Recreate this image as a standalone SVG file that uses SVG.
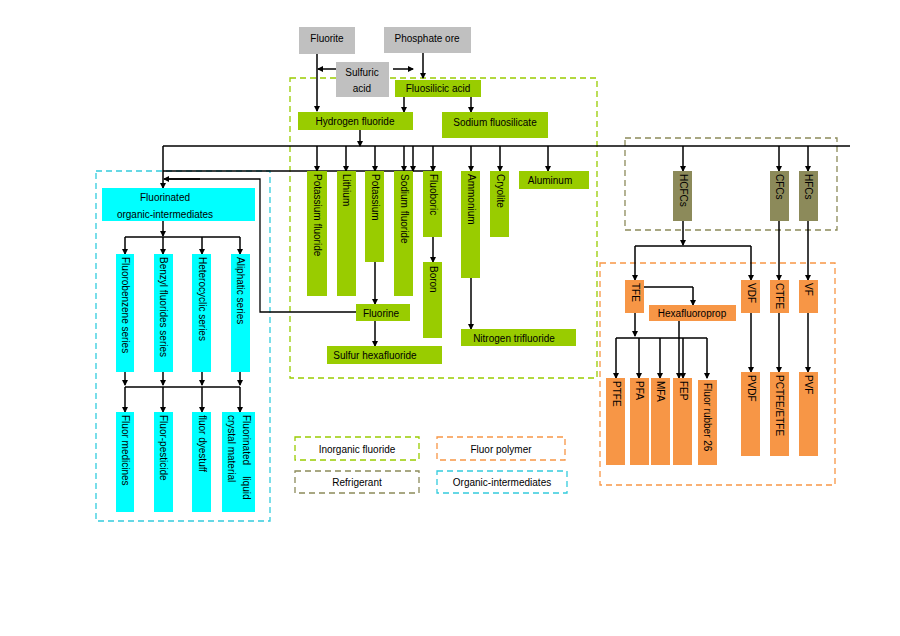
<svg xmlns="http://www.w3.org/2000/svg" width="900" height="636" viewBox="0 0 900 636">
<style>
text{font-family:"Liberation Sans",Arial,sans-serif;font-size:10px;fill:#000}
.g{fill:#c0c0c0}.gr{fill:#99cc00}.c{fill:#00ffff}.o{fill:#f79646}.k{fill:#8c8a5a}
.n rect{stroke:none}
.l{stroke:#000;stroke-width:1.3;fill:none}
.a{stroke:#000;stroke-width:1.5;fill:none;marker-end:url(#ar)}
.d{fill:none;stroke-width:1.3;stroke-dasharray:6,4}
.v{text-anchor:start;dominant-baseline:central}
.m{text-anchor:middle;dominant-baseline:central}
</style>
<defs><marker id="ar" markerWidth="6" markerHeight="6" refX="5" refY="3" orient="auto" markerUnits="userSpaceOnUse"><path d="M0,0L6,3L0,6z" fill="#000"/></marker></defs>
<rect width="900" height="636" fill="#fff"/>
<g id="regions">
<rect class="d" x="290" y="78" width="307" height="300" stroke="#99cc00"/>
<rect class="d" x="96" y="171" width="174" height="350" stroke="#33ccdd"/>
<rect class="d" x="625" y="138" width="212" height="92" stroke="#8c8a5a"/>
<rect class="d" x="600" y="263" width="235" height="222" stroke="#f79646"/>
</g>
<g id="connectors">
<path class="a" d="M336,69H318"/><path class="a" d="M393,69H413"/>
<path class="a" d="M317,54V111"/><path class="a" d="M423,53V78"/>
<path class="a" d="M404,97V112"/><path class="a" d="M471,97V112"/>
<path class="a" d="M360,130V146"/>
<path class="l" d="M163,146H850"/>
<path class="a" d="M317,146V171"/><path class="a" d="M346,146V171"/><path class="a" d="M375,146V171"/><path class="a" d="M404,146V171"/><path class="a" d="M413,146V171"/><path class="a" d="M433,146V171"/><path class="a" d="M471,146V171"/><path class="a" d="M500,146V171"/><path class="a" d="M548,146V171"/>
<path class="l" d="M163,171H433"/>
<path class="a" d="M433,237V262"/><path class="a" d="M375,262V304"/><path class="a" d="M375,321V346"/><path class="a" d="M471,278V329"/>
<path class="a" d="M163,146V188"/>
<path class="l" d="M356,312H260V179H165"/><path class="a" d="M200,179H164"/>
<path class="a" d="M163,221V236"/><path class="l" d="M125,237H240"/>
<path class="a" d="M125,237V254"/><path class="a" d="M163,237V254"/><path class="a" d="M202,237V254"/><path class="a" d="M240,237V254"/>
<path class="a" d="M125,372V385"/><path class="a" d="M163,372V385"/><path class="a" d="M202,372V385"/><path class="a" d="M240,372V385"/>
<path class="l" d="M125,387H240"/>
<path class="a" d="M125,387V412"/><path class="a" d="M163,387V412"/><path class="a" d="M202,387V412"/><path class="a" d="M240,387V412"/>
<path class="a" d="M683,146V171"/><path class="a" d="M779,146V171"/><path class="a" d="M808,146V171"/>
<path class="a" d="M683,221V245"/><path class="l" d="M635,246H751"/>
<path class="a" d="M635,246V280"/><path class="a" d="M751,246V280"/>
<path class="a" d="M779,221V280"/><path class="a" d="M808,221V280"/>
<path class="l" d="M644,287H693"/><path class="a" d="M693,287V305"/>
<path class="a" d="M635,313V336"/><path class="l" d="M616,338H707"/>
<path class="a" d="M616,338V378"/><path class="a" d="M639,338V378"/><path class="a" d="M660,338V378"/><path class="a" d="M707,338V378"/>
<path class="a" d="M679,321V378"/><path class="a" d="M683,338V378"/>
<path class="a" d="M751,313V372"/><path class="a" d="M779,313V372"/><path class="a" d="M808,313V372"/>
</g>
<g id="fluorite" class="n"><rect class="g" x="299" y="27" width="56" height="27"/><text class="m" x="327" y="38">Fluorite</text></g>
<g id="phosphate" class="n"><rect class="g" x="384" y="27" width="87" height="26"/><text class="m" x="427" y="38">Phosphate ore</text></g>
<g id="sulfuric" class="n"><rect class="g" x="336" y="62" width="53" height="35"/><text class="m" x="362" y="72">Sulfuric</text><text class="m" x="362" y="88">acid</text></g>
<g id="fluosilicic" class="n"><rect class="gr" x="395" y="80" width="86" height="17"/><text class="m" x="438" y="88">Fluosilicic acid</text></g>
<g id="hf" class="n"><rect class="gr" x="298" y="112" width="115" height="18"/><text class="m" x="355" y="121">Hydrogen fluoride</text></g>
<g id="sodiumfs" class="n"><rect class="gr" x="442" y="112" width="106" height="26"/><text class="m" x="495" y="122">Sodium fluosilicate</text></g>
<g id="kf" class="n"><rect class="gr" x="307" y="171" width="20" height="125"/><text class="v" transform="translate(317,174) rotate(90)">Potassium fluoride</text></g>
<g id="li" class="n"><rect class="gr" x="337" y="171" width="19" height="125"/><text class="v" transform="translate(346,174) rotate(90)">Lithium</text></g>
<g id="k" class="n"><rect class="gr" x="365" y="171" width="19" height="91"/><text class="v" transform="translate(375,174) rotate(90)">Potassium</text></g>
<g id="naf" class="n"><rect class="gr" x="394" y="171" width="19" height="125"/><text class="v" transform="translate(404,174) rotate(90)">Sodium fluoride</text></g>
<g id="fluoboric" class="n"><rect class="gr" x="423" y="171" width="19" height="66"/><text class="v" transform="translate(433,174) rotate(90)">Fluoboric</text></g>
<g id="ammonium" class="n"><rect class="gr" x="461" y="171" width="19" height="107"/><text class="v" transform="translate(471,174) rotate(90)">Ammonium</text></g>
<g id="cryolite" class="n"><rect class="gr" x="490" y="171" width="19" height="66"/><text class="v" transform="translate(500,174) rotate(90)">Cryolite</text></g>
<g id="aluminum" class="n"><rect class="gr" x="519" y="171" width="70" height="18"/><text class="m" x="550" y="180">Aluminum</text></g>
<g id="boron" class="n"><rect class="gr" x="423" y="262" width="19" height="76"/><text class="v" transform="translate(433,266) rotate(90)">Boron</text></g>
<g id="fluorine" class="n"><rect class="gr" x="356" y="304" width="54" height="17"/><text class="m" x="381" y="313">Fluorine</text></g>
<g id="sf6" class="n"><rect class="gr" x="327" y="346" width="115" height="18"/><text class="m" x="375" y="355">Sulfur hexafluoride</text></g>
<g id="nf3" class="n"><rect class="gr" x="461" y="329" width="115" height="17"/><text class="m" x="514" y="338">Nitrogen trifluoride</text></g>
<g id="foi" class="n"><rect class="c" x="102" y="188" width="153" height="33"/><text class="m" x="165" y="197">Fluorinated</text><text class="m" x="165" y="214">organic-intermediates</text></g>
<g id="fbs" class="n"><rect class="c" x="116" y="254" width="18" height="118"/><text class="v" transform="translate(125,257) rotate(90)">Fluorobenzene series</text></g>
<g id="bfs" class="n"><rect class="c" x="154" y="254" width="19" height="118"/><text class="v" transform="translate(163,257) rotate(90)">Benzyl fluorides series</text></g>
<g id="hs" class="n"><rect class="c" x="192" y="254" width="19" height="118"/><text class="v" transform="translate(202,257) rotate(90)">Heterocyclic series</text></g>
<g id="as" class="n"><rect class="c" x="231" y="254" width="19" height="118"/><text class="v" transform="translate(240,257) rotate(90)">Aliphatic series</text></g>
<g id="fm" class="n"><rect class="c" x="116" y="412" width="18" height="100"/><text class="v" transform="translate(125,415) rotate(90)">Fluor medicines</text></g>
<g id="fp" class="n"><rect class="c" x="154" y="412" width="19" height="100"/><text class="v" transform="translate(163,415) rotate(90)">Fluor-pesticide</text></g>
<g id="fd" class="n"><rect class="c" x="192" y="412" width="19" height="100"/><text class="v" transform="translate(202,415) rotate(90)">fluor dyestuff</text></g>
<g id="flc" class="n"><rect class="c" x="222" y="412" width="33" height="100"/><text class="v" transform="translate(246,415) rotate(90)" xml:space="preserve">Fluorinated    liquid</text><text class="v" transform="translate(231,415) rotate(90)">crystal material</text></g>
<g id="hcfcs" class="n"><rect class="k" x="673" y="171" width="19" height="50"/><text class="v" transform="translate(683,174) rotate(90)">HCFCs</text></g>
<g id="cfcs" class="n"><rect class="k" x="770" y="171" width="19" height="50"/><text class="v" transform="translate(779,174) rotate(90)">CFCs</text></g>
<g id="hfcs" class="n"><rect class="k" x="799" y="171" width="19" height="50"/><text class="v" transform="translate(808,174) rotate(90)">HFCs</text></g>
<g id="tfe" class="n"><rect class="o" x="625" y="280" width="19" height="33"/><text class="v" transform="translate(635,283) rotate(90)">TFE</text></g>
<g id="vdf" class="n"><rect class="o" x="741" y="280" width="19" height="33"/><text class="v" transform="translate(751,283) rotate(90)">VDF</text></g>
<g id="ctfe" class="n"><rect class="o" x="770" y="280" width="19" height="33"/><text class="v" transform="translate(779,283) rotate(90)">CTFE</text></g>
<g id="vf" class="n"><rect class="o" x="799" y="280" width="19" height="33"/><text class="v" transform="translate(808,283) rotate(90)">VF</text></g>
<g id="hfp" class="n"><rect class="o" x="649" y="305" width="87" height="16"/><text class="m" x="692" y="313">Hexafluoroprop</text></g>
<g id="ptfe" class="n"><rect class="o" x="606" y="378" width="19" height="87"/><text class="v" transform="translate(616,381) rotate(90)">PTFE</text></g>
<g id="pfa" class="n"><rect class="o" x="630" y="378" width="19" height="87"/><text class="v" transform="translate(639,381) rotate(90)">PFA</text></g>
<g id="mfa" class="n"><rect class="o" x="651" y="378" width="19" height="87"/><text class="v" transform="translate(660,381) rotate(90)">MFA</text></g>
<g id="fep" class="n"><rect class="o" x="673" y="378" width="19" height="87"/><text class="v" transform="translate(683,381) rotate(90)">FEP</text></g>
<g id="rubber" class="n"><rect class="o" x="698" y="380" width="19" height="85"/><text class="v" transform="translate(707,383) rotate(90)">Fluor rubber 26</text></g>
<g id="pvdf" class="n"><rect class="o" x="741" y="372" width="19" height="84"/><text class="v" transform="translate(751,375) rotate(90)">PVDF</text></g>
<g id="pctfe" class="n"><rect class="o" x="770" y="372" width="19" height="84"/><text class="v" transform="translate(779,375) rotate(90)">PCTFE/ETFE</text></g>
<g id="pvf" class="n"><rect class="o" x="799" y="372" width="19" height="84"/><text class="v" transform="translate(808,375) rotate(90)">PVF</text></g>
<g id="legend">
<rect class="d" x="295" y="437" width="124" height="23" stroke="#99cc00"/><text class="m" x="357" y="449">Inorganic fluoride</text>
<rect class="d" x="437" y="437" width="128" height="23" stroke="#f79646"/><text class="m" x="501" y="449">Fluor polymer</text>
<rect class="d" x="295" y="471" width="124" height="22" stroke="#8c8a5a"/><text class="m" x="357" y="482">Refrigerant</text>
<rect class="d" x="437" y="471" width="130" height="22" stroke="#33ccdd"/><text class="m" x="502" y="482">Organic-intermediates</text>
</g>
</svg>
